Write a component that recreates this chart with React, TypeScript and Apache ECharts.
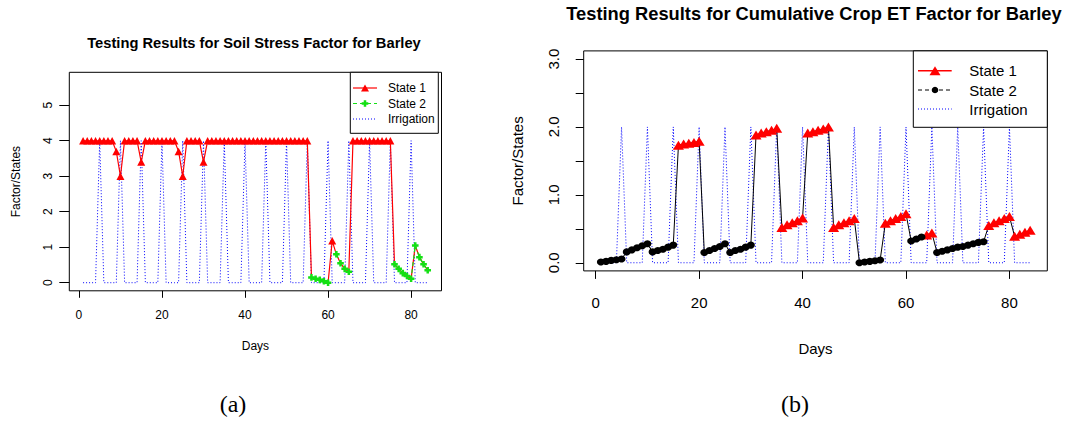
import React, { useEffect, useRef } from 'react';
import * as echarts from 'echarts';

// ---------- data ----------
const days = [
  1, 2, 3, 4, 5, 6, 7, 8, 9, 10,
  11, 12, 13, 14, 15, 16, 17, 18, 19, 20,
  21, 22, 23, 24, 25, 26, 27, 28, 29, 30,
  31, 32, 33, 34, 35, 36, 37, 38, 39, 40,
  41, 42, 43, 44, 45, 46, 47, 48, 49, 50,
  51, 52, 53, 54, 55, 56, 57, 58, 59, 60,
  61, 62, 63, 64, 65, 66, 67, 68, 69, 70,
  71, 72, 73, 74, 75, 76, 77, 78, 79, 80,
  81, 82, 83, 84,
];

// (a) Soil stress factor
const soilFactor = [
  4, 4, 4, 4, 4, 4, 4, 4, 3.7, 3.0,
  4, 4, 4, 4, 3.4, 4, 4, 4, 4, 4,
  4, 4, 4, 3.7, 3.0, 4, 4, 4, 4, 3.4,
  4, 4, 4, 4, 4, 4, 4, 4, 4, 4,
  4, 4, 4, 4, 4, 4, 4, 4, 4, 4,
  4, 4, 4, 4, 4, 0.15, 0.11, 0.08, 0.04, 0.0,
  1.18, 0.8, 0.55, 0.39, 0.31, 4, 4, 4, 4, 4,
  4, 4, 4, 4, 4, 0.52, 0.39, 0.27, 0.19, 0.11,
  1.05, 0.72, 0.52, 0.35,
];
const soilState = [
  1, 1, 1, 1, 1, 1, 1, 1, 1, 1,
  1, 1, 1, 1, 1, 1, 1, 1, 1, 1,
  1, 1, 1, 1, 1, 1, 1, 1, 1, 1,
  1, 1, 1, 1, 1, 1, 1, 1, 1, 1,
  1, 1, 1, 1, 1, 1, 1, 1, 1, 1,
  1, 1, 1, 1, 1, 2, 2, 2, 2, 2,
  1, 2, 2, 2, 2, 1, 1, 1, 1, 1,
  1, 1, 1, 1, 1, 2, 2, 2, 2, 2,
  2, 2, 2, 2,
];
const soilIrrigation = [
  0, 0, 0, 0, 4, 0, 0, 0, 0, 4,
  0, 0, 0, 0, 4, 0, 0, 0, 0, 4,
  0, 0, 0, 0, 4, 0, 0, 0, 0, 4,
  0, 0, 0, 0, 4, 0, 0, 0, 0, 4,
  0, 0, 0, 0, 4, 0, 0, 0, 0, 4,
  0, 0, 0, 0, 4, 0, 0, 0, 0, 4,
  0, 0, 0, 0, 4, 0, 0, 0, 0, 4,
  0, 0, 0, 0, 4, 0, 0, 0, 0, 4,
  0, 0, 0, 0,
];

// (b) Cumulative crop ET factor
const etFactor = [
  0.01, 0.02, 0.035, 0.045, 0.055, 0.16, 0.19, 0.22, 0.25, 0.28,
  0.16, 0.18, 0.2, 0.23, 0.26, 1.73, 1.75, 1.76, 1.77, 1.79,
  0.15, 0.18, 0.21, 0.24, 0.28, 0.15, 0.18, 0.2, 0.23, 0.26,
  1.88, 1.91, 1.93, 1.95, 1.98, 0.52, 0.56, 0.59, 0.62, 0.66,
  1.91, 1.93, 1.95, 1.97, 2.0, 0.52, 0.56, 0.59, 0.62, 0.65,
  0.0, 0.01, 0.02, 0.03, 0.04, 0.58, 0.62, 0.65, 0.68, 0.72,
  0.32, 0.35, 0.38, 0.41, 0.44, 0.15, 0.17, 0.19, 0.21, 0.23,
  0.24, 0.26, 0.28, 0.3, 0.31, 0.55, 0.59, 0.62, 0.65, 0.68,
  0.39, 0.42, 0.45, 0.48,
];
const etState = [
  2, 2, 2, 2, 2, 2, 2, 2, 2, 2,
  2, 2, 2, 2, 2, 1, 1, 1, 1, 1,
  2, 2, 2, 2, 2, 2, 2, 2, 2, 2,
  1, 1, 1, 1, 1, 1, 1, 1, 1, 1,
  1, 1, 1, 1, 1, 1, 1, 1, 1, 1,
  2, 2, 2, 2, 2, 1, 1, 1, 1, 1,
  2, 2, 2, 1, 1, 2, 2, 2, 2, 2,
  2, 2, 2, 2, 2, 1, 1, 1, 1, 1,
  1, 1, 1, 1,
];
const etIrrigation = [
  0, 0, 0, 0, 2, 0, 0, 0, 0, 2,
  0, 0, 0, 0, 2, 0, 0, 0, 0, 2,
  0, 0, 0, 0, 2, 0, 0, 0, 0, 2,
  0, 0, 0, 0, 2, 0, 0, 0, 0, 2,
  0, 0, 0, 0, 2, 0, 0, 0, 0, 2,
  0, 0, 0, 0, 2, 0, 0, 0, 0, 2,
  0, 0, 0, 0, 2, 0, 0, 0, 0, 2,
  0, 0, 0, 0, 2, 0, 0, 0, 0, 2,
  0, 0, 0, 0,
];

const xTicks = [0, 20, 40, 60, 80];
const soilYTicks = [0, 1, 2, 3, 4, 5];
const etYTicks = [0, 0.5, 1, 1.5, 2, 2.5, 3];
const etYLabels = [0, 1, 2, 3];

const titleA = 'Testing Results for Soil Stress Factor for Barley';
const titleB = 'Testing Results for Cumulative Crop ET Factor for Barley';
const legendNames = ['State 1', 'State 2', 'Irrigation'];

// ---------- styling ----------
const FONT = 'Liberation Sans, Arial, Helvetica, sans-serif';
const RED = '#ff0000';
const GREEN = '#14e014';
const BLUE = '#0000ff';
const PLUS = 'path://M-1,-0.38L-0.38,-0.38L-0.38,-1L0.38,-1L0.38,-0.38L1,-0.38L1,0.38L0.38,0.38L0.38,1L-0.38,1L-0.38,0.38L-1,0.38Z';

function plusPoints(cx: number, cy: number, r: number) {
  const a = 0.38 * r;
  return [
    [cx - r, cy - a], [cx - a, cy - a], [cx - a, cy - r], [cx + a, cy - r], [cx + a, cy - a], [cx + r, cy - a],
    [cx + r, cy + a], [cx + a, cy + a], [cx + a, cy + r], [cx - a, cy + r], [cx - a, cy + a], [cx - r, cy + a],
  ];
}

function buildOption() {
  const gA = { left: 69.3, top: 72.3, width: 372.2, height: 218.5 };
  const gB = { left: 583.7, top: 50.9, width: 463.6, height: 220 };

  const irrA = days.map((d, i) => [d, soilIrrigation[i]]);
  const s1A = days.map((d, i) => ({
    value: [d, soilFactor[i]],
    symbol: soilState[i] === 1 ? 'triangle' : 'none',
  }));
  const s2A = days.map((d, i) => (soilState[i] === 2 ? [d, soilFactor[i]] : [d, null]));

  const irrB = days.map((d, i) => [d, etIrrigation[i]]);
  const baseB = days.map((d, i) => [d, etFactor[i]]);
  const s1B = days.map((d, i) => (etState[i] === 1 ? [d, etFactor[i]] : [d, null]));
  const s2B = days.map((d, i) => (etState[i] === 2 ? [d, etFactor[i]] : [d, null]));

  const axisCommon = {
    type: 'value' as const,
    axisLine: { show: false, onZero: false },
    splitLine: { show: false },
  };

  const txt = (x: number, y: number, text: string, size: number, extra: any = {}) => ({
    type: 'text',
    x,
    y,
    silent: true,
    style: {
      text,
      fontSize: size,
      fontFamily: FONT,
      fill: '#000',
      align: 'left',
      verticalAlign: 'middle',
      textAlign: 'left',
      textVerticalAlign: 'middle',
      ...extra,
    },
  });

  const la = { x: 350.3, y: 72.3, w: 88, h: 61, rows: [88, 103.5, 119], lx1: 353, lx2: 377, mx: 365, tx: 388 };
  const lb = { x: 913.3, y: 50.9, w: 134, h: 76.4, rows: [70.7, 90, 109], lx1: 918, lx2: 951.7, mx: 935, tx: 969.3 };

  const graphic: any[] = [
    { type: 'rect', silent: true, shape: { x: la.x, y: la.y, width: la.w, height: la.h }, style: { fill: '#fff', stroke: '#000', lineWidth: 1 }, z: 10 },
    { type: 'line', silent: true, z: 11, shape: { x1: la.lx1, y1: la.rows[0], x2: la.lx2, y2: la.rows[0] }, style: { stroke: RED, lineWidth: 1.2 } },
    { type: 'polygon', silent: true, z: 12, shape: { points: [[la.mx - 4, la.rows[0] + 3.5], [la.mx + 4, la.rows[0] + 3.5], [la.mx, la.rows[0] - 3.5]] }, style: { fill: RED } },
    { type: 'line', silent: true, z: 11, shape: { x1: la.lx1, y1: la.rows[1], x2: la.lx2, y2: la.rows[1] }, style: { stroke: GREEN, lineWidth: 1.2, lineDash: [4, 3] } },
    { type: 'polygon', silent: true, z: 12, shape: { points: plusPoints(la.mx, la.rows[1], 3.3) }, style: { fill: GREEN } },
    { type: 'line', silent: true, z: 11, shape: { x1: la.lx1, y1: la.rows[2], x2: la.lx2, y2: la.rows[2] }, style: { stroke: BLUE, lineWidth: 1, lineDash: [1, 2] } },
    { ...txt(la.tx, la.rows[0], legendNames[0], 12), z: 12 },
    { ...txt(la.tx, la.rows[1], legendNames[1], 12), z: 12 },
    { ...txt(la.tx, la.rows[2], legendNames[2], 12), z: 12 },

    { type: 'rect', silent: true, shape: { x: lb.x, y: lb.y, width: lb.w, height: lb.h }, style: { fill: '#fff', stroke: '#000', lineWidth: 1 }, z: 10 },
    { type: 'line', silent: true, z: 11, shape: { x1: lb.lx1, y1: lb.rows[0], x2: lb.lx2, y2: lb.rows[0] }, style: { stroke: RED, lineWidth: 1.5 } },
    { type: 'polygon', silent: true, z: 12, shape: { points: [[lb.mx - 5.5, lb.rows[0] + 4.5], [lb.mx + 5.5, lb.rows[0] + 4.5], [lb.mx, lb.rows[0] - 4.5]] }, style: { fill: RED } },
    { type: 'line', silent: true, z: 11, shape: { x1: lb.lx1, y1: lb.rows[1], x2: lb.lx2, y2: lb.rows[1] }, style: { stroke: '#000', lineWidth: 1, lineDash: [4, 3] } },
    { type: 'circle', silent: true, z: 12, shape: { cx: lb.mx, cy: lb.rows[1], r: 3.3 }, style: { fill: '#000' } },
    { type: 'line', silent: true, z: 11, shape: { x1: lb.lx1, y1: lb.rows[2], x2: lb.lx2, y2: lb.rows[2] }, style: { stroke: BLUE, lineWidth: 1, lineDash: [1, 2] } },
    { ...txt(lb.tx, lb.rows[0], legendNames[0], 15), z: 12 },
    { ...txt(lb.tx, lb.rows[1], legendNames[1], 15), z: 12 },
    { ...txt(lb.tx, lb.rows[2], legendNames[2], 15), z: 12 },

    txt(233, 404, '(a)', 24, { fontFamily: 'Liberation Serif, DejaVu Serif, serif', align: 'center', textAlign: 'center' }),
    txt(795, 404, '(b)', 24, { fontFamily: 'Liberation Serif, DejaVu Serif, serif', align: 'center', textAlign: 'center' }),
  ];

  return {
    animation: false,
    backgroundColor: '#fff',
    textStyle: { fontFamily: FONT, color: '#000' },
    title: [
      {
        text: titleA,
        left: 254,
        top: 35.2,
        textAlign: 'center',
        padding: 0,
        textStyle: { fontFamily: FONT, fontWeight: 'bold', fontSize: 14.7, color: '#000' },
      },
      {
        text: titleB,
        left: 814,
        top: 4,
        textAlign: 'center',
        padding: 0,
        textStyle: { fontFamily: FONT, fontWeight: 'bold', fontSize: 18.3, color: '#000' },
      },
    ],
    grid: [
      { ...gA, show: true, borderColor: '#000', borderWidth: 1, backgroundColor: 'transparent', containLabel: false, outerBoundsMode: 'none' },
      { ...gB, show: true, borderColor: '#000', borderWidth: 1, backgroundColor: 'transparent', containLabel: false, outerBoundsMode: 'none' },
    ],
    xAxis: [
      {
        ...axisCommon,
        gridIndex: 0,
        min: -2.32,
        max: 87.32,
        axisTick: { show: true, length: 7, lineStyle: { color: '#000', width: 1 }, customValues: xTicks },
        axisLabel: { customValues: xTicks, fontSize: 12, fontFamily: FONT, color: '#000', margin: 18 },
        name: 'Days',
        nameLocation: 'middle',
        nameGap: 48.8,
        nameTextStyle: { fontSize: 12, fontFamily: FONT, color: '#000' },
      },
      {
        ...axisCommon,
        gridIndex: 1,
        min: -2.32,
        max: 87.32,
        axisTick: { show: true, length: 8, lineStyle: { color: '#000', width: 1 }, customValues: xTicks },
        axisLabel: { customValues: xTicks, fontSize: 15, fontFamily: FONT, color: '#000', margin: 23.7 },
        name: 'Days',
        nameLocation: 'middle',
        nameGap: 70.4,
        nameTextStyle: { fontSize: 15, fontFamily: FONT, color: '#000' },
      },
    ],
    yAxis: [
      {
        ...axisCommon,
        gridIndex: 0,
        min: -0.228,
        max: 5.928,
        axisTick: { show: true, length: 10, lineStyle: { color: '#000', width: 1 }, customValues: soilYTicks },
        axisLabel: { customValues: soilYTicks, rotate: 90, fontSize: 12, fontFamily: FONT, color: '#000', margin: 15.8 },
        name: 'Factor/States',
        nameLocation: 'middle',
        nameGap: 47.3,
        nameTextStyle: { fontSize: 12, fontFamily: FONT, color: '#000' },
      },
      {
        ...axisCommon,
        gridIndex: 1,
        min: -0.12,
        max: 3.12,
        axisTick: { show: true, length: 8, lineStyle: { color: '#000', width: 1 }, customValues: etYTicks },
        axisLabel: {
          customValues: etYLabels,
          rotate: 90,
          fontSize: 15,
          fontFamily: FONT,
          color: '#000',
          margin: 22.9,
          formatter: (v: number) => Number(v).toFixed(1),
        },
        name: 'Factor/States',
        nameLocation: 'middle',
        nameGap: 59.2,
        nameTextStyle: { fontSize: 15, fontFamily: FONT, color: '#000' },
      },
    ],
    series: [
      {
        name: 'Irrigation',
        type: 'line',
        xAxisIndex: 0,
        yAxisIndex: 0,
        data: irrA,
        symbol: 'none',
        silent: true,
        z: 1,
        lineStyle: { color: BLUE, width: 1, type: [1, 2] },
      },
      {
        name: 'State 1',
        type: 'line',
        xAxisIndex: 0,
        yAxisIndex: 0,
        data: s1A,
        symbol: 'triangle',
        symbolSize: [8, 7.5],
        showSymbol: true,
        silent: true,
        z: 3,
        lineStyle: { color: RED, width: 1.2 },
        itemStyle: { color: RED },
      },
      {
        name: 'State 2',
        type: 'line',
        xAxisIndex: 0,
        yAxisIndex: 0,
        data: s2A,
        symbol: PLUS,
        symbolSize: 6.6,
        connectNulls: false,
        silent: true,
        z: 4,
        lineStyle: { color: GREEN, width: 1.2, type: [4, 3] },
        itemStyle: { color: GREEN },
      },
      {
        name: 'Irrigation',
        type: 'line',
        xAxisIndex: 1,
        yAxisIndex: 1,
        data: irrB,
        symbol: 'none',
        silent: true,
        z: 1,
        lineStyle: { color: BLUE, width: 1, type: [1, 2] },
      },
      {
        name: 'Factor',
        type: 'line',
        xAxisIndex: 1,
        yAxisIndex: 1,
        data: baseB,
        symbol: 'none',
        silent: true,
        z: 2,
        lineStyle: { color: '#000', width: 1 },
      },
      {
        name: 'State 1',
        type: 'line',
        xAxisIndex: 1,
        yAxisIndex: 1,
        data: s1B,
        symbol: 'triangle',
        symbolSize: [11, 9],
        connectNulls: false,
        silent: true,
        z: 3,
        lineStyle: { color: RED, width: 1.2, opacity: 0 },
        itemStyle: { color: RED },
      },
      {
        name: 'State 2',
        type: 'line',
        xAxisIndex: 1,
        yAxisIndex: 1,
        data: s2B,
        symbol: 'circle',
        symbolSize: [8, 7],
        connectNulls: false,
        silent: true,
        z: 4,
        lineStyle: { color: '#000', width: 1, type: [4, 3] },
        itemStyle: { color: '#000' },
      },
    ],
    graphic,
  };
}

export default function App() {
  const ref = useRef<HTMLDivElement>(null);
  useEffect(() => {
    document.body.style.margin = '0';
    const chart = echarts.init(ref.current as HTMLDivElement, null, { renderer: 'svg' });
    chart.setOption(buildOption() as any);
    return () => {
      chart.dispose();
    };
  }, []);
  return <div ref={ref} style={{ width: 1067, height: 422 }} />;
}
